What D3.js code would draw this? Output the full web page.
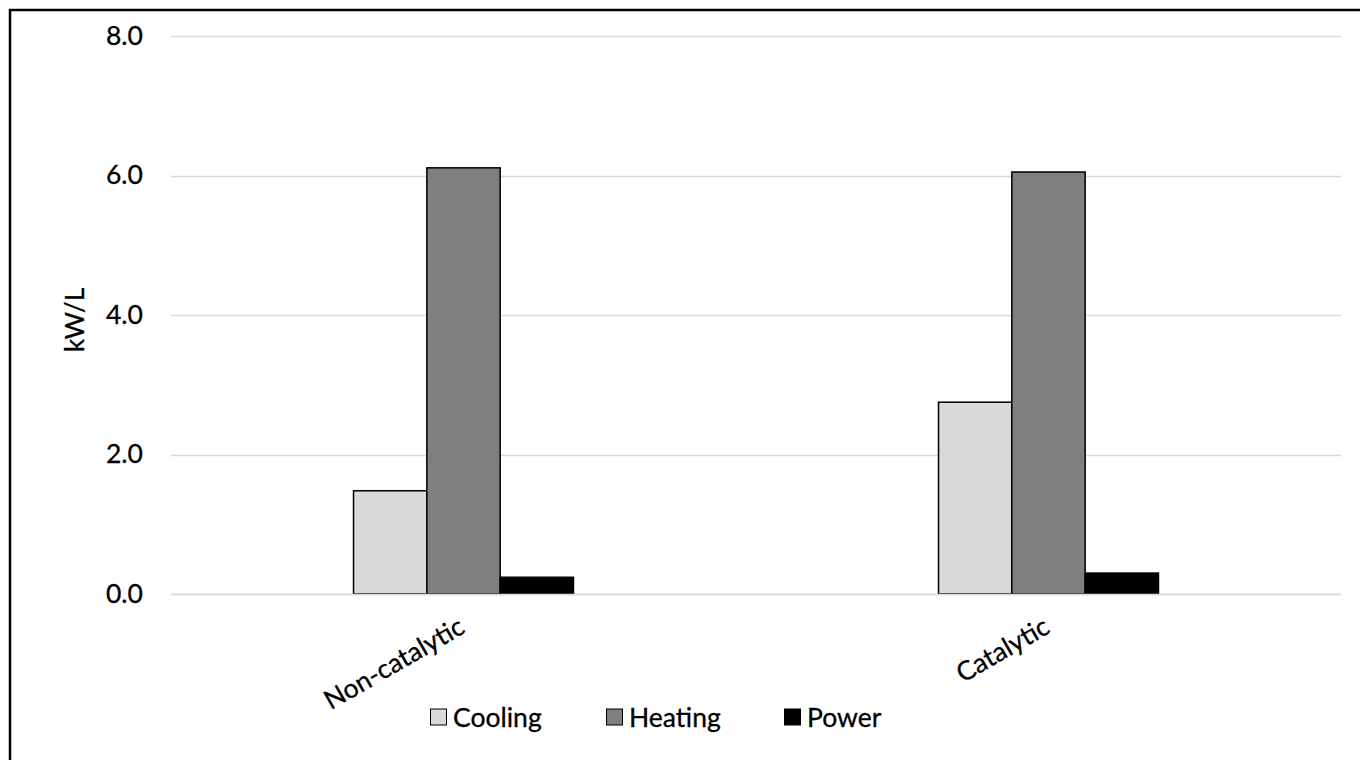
<!DOCTYPE html>
<html>
<head>
<meta charset="utf-8">
<script src="https://cdn.jsdelivr.net/npm/d3@7"></script>
<style>
  html, body { margin: 0; padding: 0; background: #fff; }
  svg { display: block; }
  text { font-family: Lato, "Noto Sans", sans-serif; fill: #000; stroke: #000; stroke-width: 0.3px; }
</style>
</head>
<body>
<svg id="chart" width="1360" height="760"></svg>
<script>
// Energy intensity by process type
const categories = ["Non-catalytic", "Catalytic"];
const seriesNames = ["Cooling", "Heating", "Power"];
const cooling = [1.48, 2.75];
const heating = [6.11, 6.05];
const power = [0.24, 0.30];
const yTicks = [0, 2, 4, 6, 8];
const yLabel = "kW/L";

const seriesValues = [cooling, heating, power];
const colors = ["#d9d9d9", "#7f7f7f", "#000000"];

const FONT = 26.5;
const svg = d3.select("#chart");
const W = 1360, H = 760;
const margin = { left: 171, right: 19, top: 36, bottom: 166 };
const plotW = W - margin.left - margin.right;
const plotH = H - margin.top - margin.bottom;

// outer chart frame
svg.append("rect")
  .attr("x", 10).attr("y", 10)
  .attr("width", W + 20).attr("height", H + 20)
  .attr("fill", "none").attr("stroke", "#000").attr("stroke-width", 2.5);

const g = svg.append("g").attr("transform", `translate(${margin.left},${margin.top})`);

const y = d3.scaleLinear().domain([0, 8]).range([plotH, 0]);
const x0 = d3.scaleBand().domain(categories).range([0, plotW]).paddingInner(0).paddingOuter(0);
const groupW = x0.bandwidth() * 0.376;
const x1 = d3.scaleBand().domain(seriesNames).range([0, groupW]).padding(0);

// gridlines
g.append("g")
  .selectAll("line")
  .data(yTicks)
  .join("line")
  .attr("x1", 0).attr("x2", plotW)
  .attr("y1", d => Math.round(y(d)) + 0.5).attr("y2", d => Math.round(y(d)) + 0.5)
  .attr("stroke", "#d9d9d9").attr("stroke-width", 1.5);

// y axis tick labels
const yAxis = d3.axisLeft(y).tickValues(yTicks).tickFormat(d3.format(".1f")).tickSize(0).tickPadding(28);
const ya = g.append("g").call(yAxis);
ya.select(".domain").remove();
ya.selectAll("text")
  .attr("font-size", FONT)
  .attr("font-family", "Lato, 'Noto Sans', sans-serif")
  .attr("fill", "#000");

// bars
const data = categories.map((c, i) => ({
  cat: c,
  vals: seriesNames.map((s, j) => ({ s, v: seriesValues[j][i], color: colors[j] }))
}));

const groups = g.append("g")
  .selectAll("g")
  .data(data)
  .join("g")
  .attr("transform", d => `translate(${x0(d.cat) + (x0.bandwidth() - groupW) / 2},0)`);

groups.selectAll("rect")
  .data(d => d.vals)
  .join("rect")
  .attr("x", d => x1(d.s))
  .attr("y", d => y(d.v))
  .attr("width", x1.bandwidth())
  .attr("height", d => y(0) - y(d.v))
  .attr("fill", d => d.color)
  .attr("stroke", "#000")
  .attr("stroke-width", 1.5);

// baseline
g.append("line")
  .attr("x1", 0).attr("x2", plotW)
  .attr("y1", Math.round(y(0)) + 0.5).attr("y2", Math.round(y(0)) + 0.5)
  .attr("stroke", "#d9d9d9").attr("stroke-width", 1.5);

// category labels, rotated
const xAxis = d3.axisBottom(x0).tickSize(0).tickPadding(0);
const xa = g.append("g").attr("transform", `translate(0,${plotH})`).call(xAxis);
xa.select(".domain").remove();
xa.selectAll("text")
  .attr("font-size", FONT)
  .attr("font-family", "Lato, 'Noto Sans', sans-serif")
  .attr("fill", "#000")
  .attr("text-anchor", "end")
  .attr("dy", null)
  .attr("y", 0)
  .attr("transform", "translate(3,38) rotate(-30)");

// y axis title
svg.append("text")
  .attr("transform", `translate(74,${margin.top + plotH / 2 + 5}) rotate(-90)`)
  .attr("text-anchor", "middle")
  .attr("dominant-baseline", "central")
  .attr("font-size", FONT)
  .text(yLabel);

// legend
const legendX = [430, 606, 784];
const legend = svg.append("g").attr("transform", "translate(0,717)");
const items = legend.selectAll("g")
  .data(seriesNames)
  .join("g")
  .attr("transform", (d, i) => `translate(${legendX[i]},0)`);
items.append("rect")
  .attr("x", 0.5).attr("y", -8)
  .attr("width", 16).attr("height", 16)
  .attr("fill", (d, i) => colors[i])
  .attr("stroke", "#000").attr("stroke-width", 1);
items.append("text")
  .attr("x", 23).attr("y", 0)
  .attr("dominant-baseline", "central")
  .attr("font-size", FONT)
  .text(d => d);
</script>
</body>
</html>
